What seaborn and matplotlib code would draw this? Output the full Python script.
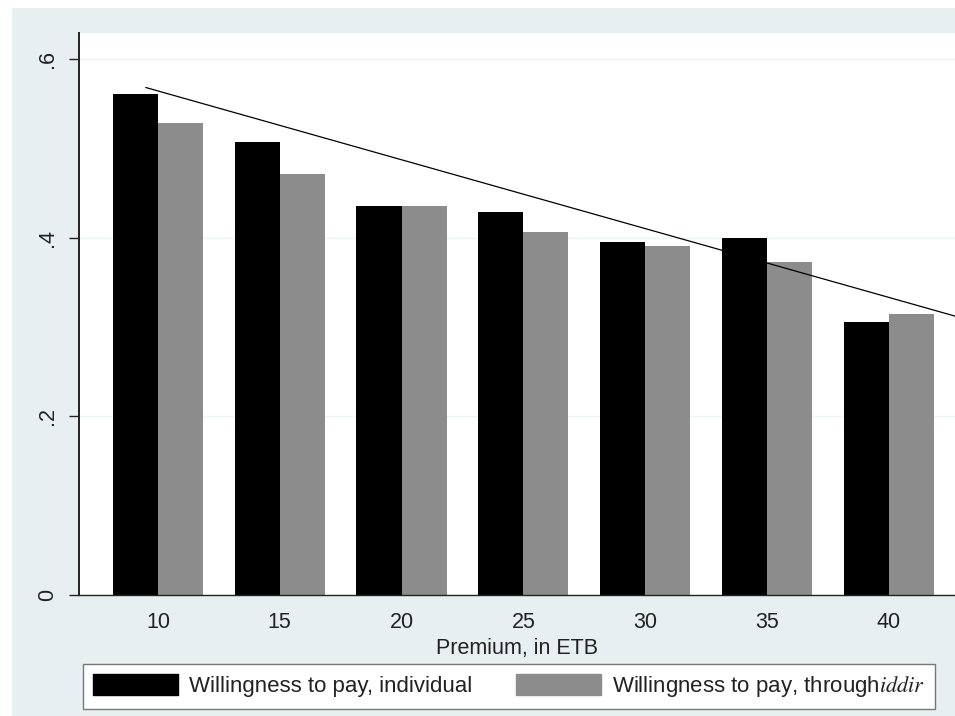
import pandas as pd
import matplotlib.pyplot as plt
import matplotlib.patches as mpatches
import seaborn as sns

# data
premium = [10, 15, 20, 25, 30, 35, 40]
wtp_individual = [0.561, 0.507, 0.435, 0.429, 0.395, 0.400, 0.305]
wtp_iddir = [0.528, 0.471, 0.435, 0.406, 0.391, 0.373, 0.314]
trend_x = [9.5, 43.0]
trend_y = [0.568, 0.310]

lab_ind = 'Willingness to pay, individual'
lab_idd = r'Willingness to pay, through$\mathit{iddir}$'

df = pd.DataFrame({
    'premium': premium * 2,
    'wtp': wtp_individual + wtp_iddir,
    'type': [lab_ind] * len(premium) + [lab_idd] * len(premium),
})

sns.set_style('white')
plt.rcParams['font.family'] = ['Liberation Sans', 'DejaVu Sans']
plt.rcParams['mathtext.fontset'] = 'stix'

bg = '#e8eff1'
gray = '#8c8c8c'

fig = plt.figure(figsize=(9.55, 7.16), dpi=100, facecolor='white')
# bluish graph region
fig.patches.append(mpatches.Rectangle((12 / 955, 0), 1, 1 - 8 / 716, transform=fig.transFigure,
                                      facecolor=bg, edgecolor='none', zorder=-10))

ax = fig.add_axes([79 / 955, 121 / 716, 876 / 955, 562 / 716])
ax.set_facecolor('white')

sns.barplot(data=df, x='premium', y='wtp', hue='type', native_scale=True,
            palette=['black', gray], width=0.74, saturation=1, errorbar=None,
            linewidth=0, ax=ax, zorder=2)
ax.plot(trend_x, trend_y, color='black', lw=0.9, zorder=3)

ax.set_xlim(6.76, 42.72)
ax.set_ylim(0, 0.629)
ax.set_xticks(premium)
ax.set_xticklabels([str(p) for p in premium], fontsize=15.5, color='#222222')
ax.set_yticks([0, 0.2, 0.4, 0.6])
ax.set_yticklabels(['0', '.2', '.4', '.6'], rotation=90, va='center', fontsize=15.5, color='#222222')
ax.tick_params(axis='x', length=0, pad=12)
ax.tick_params(axis='y', length=7, width=1, color='#222222', pad=8, left=True)
ax.yaxis.grid(True, color='#eef4f4', lw=1)
ax.set_axisbelow(True)

for s in ['top', 'right']:
    ax.spines[s].set_visible(False)
ax.spines['left'].set_color('#222222')
ax.spines['left'].set_linewidth(1.4)
ax.spines['bottom'].set_color('#222222')
ax.spines['bottom'].set_linewidth(1.0)

ax.set_xlabel('Premium, in ETB', fontsize=15.5, color='#222222', labelpad=4)
ax.set_ylabel('')

ax.get_legend().remove()
handles = [mpatches.Patch(facecolor='black', edgecolor='black', label=lab_ind),
           mpatches.Patch(facecolor=gray, edgecolor=gray, label=lab_idd)]
leg = fig.legend(handles=handles, ncol=2, loc='center',
                 bbox_to_anchor=(509 / 955, 29.5 / 716),
                 fontsize=16, frameon=True, fancybox=False, framealpha=1,
                 edgecolor='#777777', facecolor='white', handlelength=3.8,
                 handleheight=1.1, handletextpad=0.5, columnspacing=2.0,
                 borderpad=0.45, borderaxespad=0)
for t in leg.get_texts():
    t.set_color('#222222')

fig.savefig('out.png', dpi=100, facecolor=fig.get_facecolor())
